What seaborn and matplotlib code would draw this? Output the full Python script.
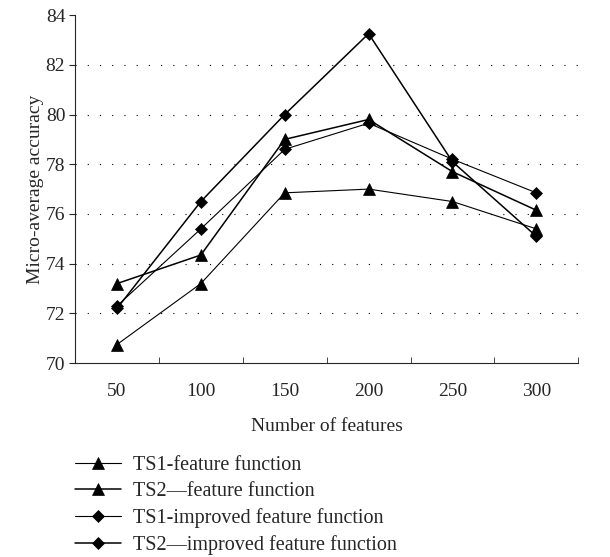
import pandas as pd
import numpy as np
import matplotlib
matplotlib.use("Agg")
import matplotlib.pyplot as plt
import seaborn as sns

features = ["50", "100", "150", "200", "250", "300"]
ts1_feature = [70.75, 73.2, 76.85, 77.0, 76.5, 75.4]
ts2_feature = [73.2, 74.35, 79.0, 79.8, 77.7, 76.15]
ts1_improved = [72.3, 75.4, 78.6, 79.65, 78.2, 76.85]
ts2_improved = [72.2, 76.5, 80.0, 83.25, 78.1, 75.1]

names = ["TS1-feature function", "TS2\u2014feature function",
         "TS1-improved feature function", "TS2\u2014improved feature function"]
series = [ts1_feature, ts2_feature, ts1_improved, ts2_improved]

df = pd.DataFrame({
    "features": features * 4,
    "accuracy": sum(series, []),
    "series": np.repeat(names, len(features)),
})

sns.set_style("ticks")
plt.rcParams['font.family'] = ['Liberation Serif', 'DejaVu Serif']

fig = plt.figure(figsize=(6.1, 5.57), dpi=100)
ax = fig.add_axes([0.123, 0.348, 0.825, 0.625])

markers = ["^", "^", "D", "D"]
sizes = [8, 8, 6, 6]
widths = [0.8, 1.1, 0.8, 1.1]
for name, m, ms, lw in zip(names, markers, sizes, widths):
    sub = df[df["series"] == name]
    sns.lineplot(data=sub, x="features", y="accuracy", ax=ax, color="black",
                 marker=m, markersize=ms, linewidth=lw, markeredgewidth=0.5,
                 markeredgecolor="black", label=name, legend=False)

ax.set_xlim(-0.5, 5.5)
ax.set_ylim(70, 84)
ax.set_yticks(np.arange(70, 85, 2))
ax.set_xticks(range(len(features)))
ax.set_xticklabels(features)
ax.set_xticks(np.arange(0.5, 6, 1), minor=True)
ax.tick_params(axis="x", which="major", length=0, labelsize=14, pad=14)
ax.tick_params(axis="x", which="minor", length=4, direction="in")
ax.tick_params(axis="y", length=4, direction="out", labelsize=14, pad=3)
for y in range(72, 84, 2):
    ax.axhline(y, color="black", linestyle=(0, (1, 10)), linewidth=0.8, zorder=0)
ax.spines["top"].set_visible(False)
ax.spines["right"].set_visible(False)
ax.set_xlabel("Number of features", fontsize=14, labelpad=13)
ax.set_ylabel("Micro-average accuracy", fontsize=14, labelpad=1)

handles, labels = ax.get_legend_handles_labels()
fig.legend(handles, labels, loc="upper left", bbox_to_anchor=(0.123, 0.181),
           frameon=False, fontsize=14.5, handlelength=2.3, labelspacing=0.34,
           handletextpad=0.6, borderaxespad=0, borderpad=0)

fig.savefig("out.png", dpi=100)
